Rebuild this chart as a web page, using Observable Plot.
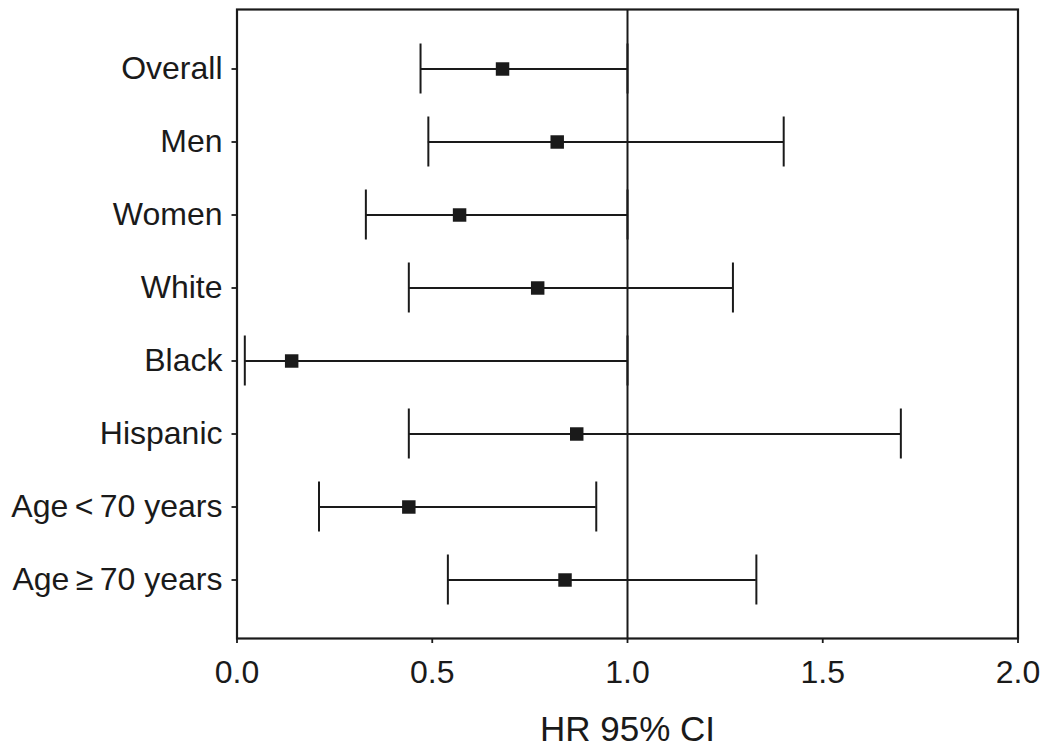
<!DOCTYPE html>
<html>
<head>
<meta charset="utf-8">
<script src="https://cdn.jsdelivr.net/npm/d3@7"></script>
<script src="https://cdn.jsdelivr.net/npm/@observablehq/plot@0.6"></script>
<style>
  html, body { margin: 0; padding: 0; background: #ffffff; }
  #chart svg { display: block; }
</style>
</head>
<body>
<div id="chart"></div>
<script>
// Subgroups (top to bottom)
const categories = [
  "Overall", "Men", "Women", "White", "Black", "Hispanic",
  "Age\u2009<\u200970 years", "Age\u2009\u2265\u200970 years"
];
// Hazard ratio point estimates
const hr    = [0.68, 0.82, 0.57, 0.77, 0.14, 0.87, 0.44, 0.84];
// 95% CI bounds
const lower = [0.47, 0.49, 0.33, 0.44, 0.02, 0.44, 0.21, 0.54];
const upper = [1.00, 1.40, 1.00, 1.27, 1.00, 1.70, 0.92, 1.33];
// X axis ticks
const xTicks = [0, 0.5, 1, 1.5, 2];
const xLabel = "HR 95% CI";
const refValue = [1];

const rows = categories.map((c, i) => ({cat: c, hr: hr[i], lo: lower[i], hi: upper[i]}));
const ink = "#1a1a1a";

const chart = Plot.plot({
  width: 1050,
  height: 749,
  marginLeft: 236.5,
  marginRight: 32.5,
  marginTop: 9,
  marginBottom: 111,
  style: {fontFamily: "'Liberation Sans', Arial, Helvetica, sans-serif", color: ink, background: "#ffffff"},
  x: {domain: [0, 2]},
  y: {type: "band", domain: categories, paddingInner: 0, paddingOuter: 0.3},
  marks: [
    Plot.frame({stroke: ink, strokeWidth: 2.2}),
    Plot.ruleX(refValue, {stroke: ink, strokeWidth: 2}),
    Plot.ruleY(rows, {y: "cat", x1: "lo", x2: "hi", stroke: ink, strokeWidth: 2}),
    Plot.tickX(rows, {x: "lo", y: "cat", stroke: ink, strokeWidth: 2, insetTop: 11.5, insetBottom: 11.5}),
    Plot.tickX(rows, {x: "hi", y: "cat", stroke: ink, strokeWidth: 2, insetTop: 11.5, insetBottom: 11.5}),
    Plot.dot(rows, {x: "hr", y: "cat", symbol: "square", r: 7.6, fill: ink, stroke: "none"}),
    Plot.axisX({ticks: xTicks, tickFormat: d3.format(".1f"), tickSize: 5, tickPadding: 17, fontSize: 32, strokeWidth: 1.8, label: null}),
    Plot.axisY({tickSize: 5, tickPadding: 9.5, fontSize: 32, strokeWidth: 1.8, label: null}),
    Plot.text([xLabel], {frameAnchor: "bottom", lineAnchor: "middle", dy: 91, fontSize: 35, fill: ink, text: d => d})
  ]
});
document.getElementById("chart").appendChild(chart);
</script>
</body>
</html>
